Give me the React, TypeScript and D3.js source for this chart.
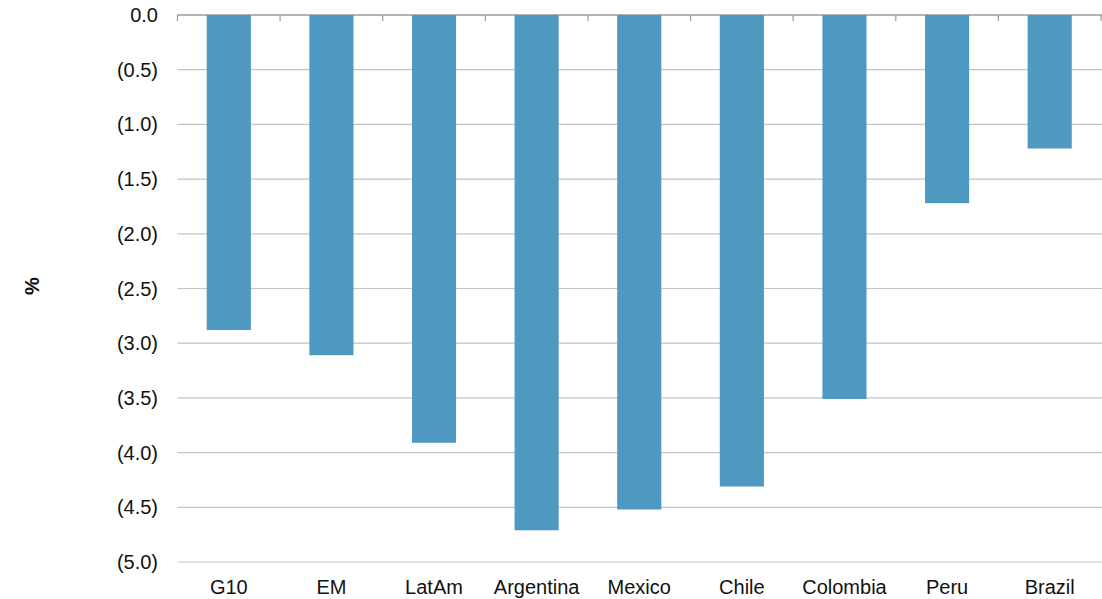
import React from "react";
import * as d3 from "d3";

const categories = ["G10", "EM", "LatAm", "Argentina", "Mexico", "Chile", "Colombia", "Peru", "Brazil"];
const values = [-2.88, -3.11, -3.91, -4.71, -4.52, -4.31, -3.51, -1.72, -1.22];
const yTicks = [0, -0.5, -1, -1.5, -2, -2.5, -3, -3.5, -4, -4.5, -5];

const W = 1102;
const H = 599;
const margin = { top: 15, right: 0, bottom: 37, left: 177.5 };

const fmt = (v: number) => (v === 0 ? "0.0" : `(${Math.abs(v).toFixed(1)})`);

export default function App() {
  const x = d3
    .scaleBand<string>()
    .domain(categories)
    .range([margin.left, 1101])
    .paddingInner(0.57)
    .paddingOuter(0.285);
  const band = d3.scaleBand<string>().domain(categories).range([margin.left, 1101]);
  const y = d3.scaleLinear().domain([0, -5]).range([margin.top, 562]);
  const font = "'Liberation Sans', Arial, sans-serif";

  return (
    <svg width={W} height={H} style={{ position: "absolute", left: 0, top: 0, background: "#fff" }}>
      {yTicks.map((t) => (
        <g key={t}>
          <line
            x1={margin.left}
            x2={W}
            y1={y(t)}
            y2={y(t)}
            stroke={t === 0 ? "#9a9a9a" : "#c4c4c4"}
            strokeWidth={t === 0 ? 1.5 : 1.2}
          />
          <text x={158} y={y(t)} dy="0.35em" textAnchor="end" fontFamily={font} fontSize={20} fill="#111">
            {fmt(t)}
          </text>
        </g>
      ))}
      {categories.map((c) => (
        <line key={"t" + c} x1={band(c)!} x2={band(c)!} y1={y(0)} y2={y(0) + 6} stroke="#9a9a9a" strokeWidth={1.2} />
      ))}
      <line x1={1101} x2={1101} y1={y(0)} y2={y(0) + 6} stroke="#9a9a9a" strokeWidth={1.2} />
      {categories.map((c, i) => (
        <rect
          key={c}
          x={x(c)!}
          y={y(0)}
          width={x.bandwidth()}
          height={y(values[i]) - y(0)}
          fill="#4f98c1"
        />
      ))}
      {categories.map((c) => (
        <text
          key={"l" + c}
          x={band(c)! + band.bandwidth() / 2}
          y={594}
          textAnchor="middle"
          fontFamily={font}
          fontSize={20}
          fill="#111"
        >
          {c}
        </text>
      ))}
      <text
        transform="translate(32,286) rotate(-90)"
        textAnchor="middle"
        dy="0.35em"
        fontFamily={font}
        fontSize={20}
        fontWeight="bold"
        fill="#111"
      >
        %
      </text>
    </svg>
  );
}
